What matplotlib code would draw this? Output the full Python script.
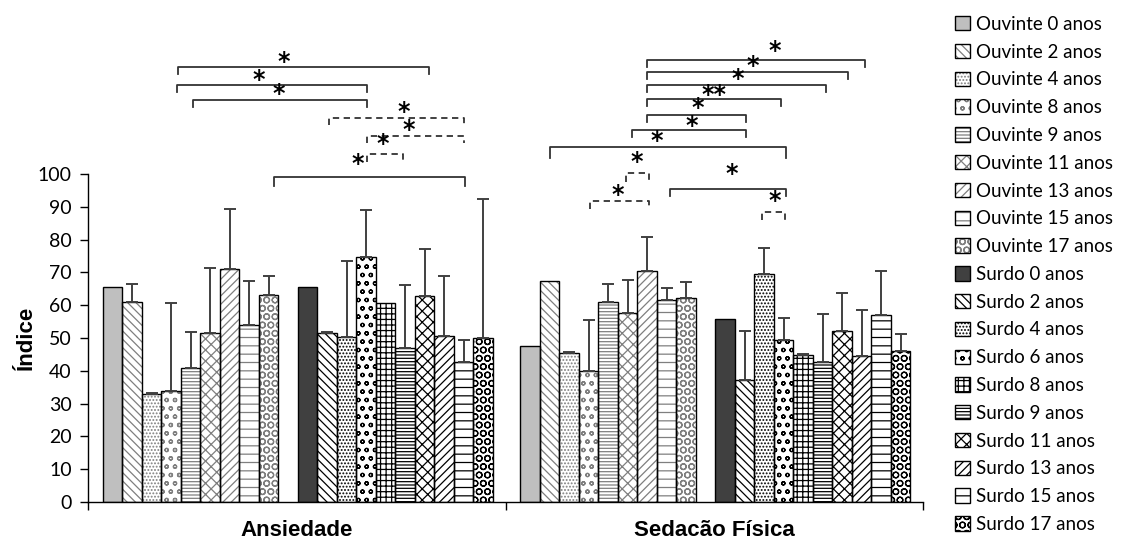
import numpy as np
import matplotlib.pyplot as plt
from matplotlib.patches import Patch
from matplotlib.legend_handler import HandlerTuple

categories = ['Ansiedade', 'Sedacão Física']
ouvinte_ages = [0, 2, 4, 8, 9, 11, 13, 15, 17]
surdo_ages = [0, 2, 4, 6, 8, 9, 11, 13, 15, 17]

# mean index per group, one list per dimension
ouv_ansiedade = [65.6, 61.0, 32.8, 33.7, 41.0, 51.4, 71.2, 54.1, 63.0]
ouv_sedacao = [47.5, 67.3, 45.3, 39.8, 61.0, 57.6, 70.3, 61.5, 62.3]
sur_ansiedade = [65.6, 51.4, 50.2, 74.6, 60.6, 47.1, 62.7, 50.7, 42.8, 49.9]
sur_sedacao = [55.8, 37.1, 69.6, 49.4, 44.8, 42.8, 52.1, 44.4, 56.9, 46.0]

# upper error (SD), nan = no bar drawn
ouv_ansiedade_sd = [np.nan, 5.4, 0.3, 27.0, 10.8, 20.1, 18.1, 13.2, 5.8]
ouv_sedacao_sd = [np.nan, np.nan, 0.3, 15.7, 5.4, 10.1, 10.5, 3.8, 4.8]
sur_ansiedade_sd = [np.nan, 0.3, 23.3, 14.3, np.nan, 19.0, 14.5, 18.1, 6.5, 42.6]
sur_sedacao_sd = [np.nan, 15.1, 7.7, 6.6, 0.3, 14.4, 11.7, 14.0, 13.6, 5.1]

# significance brackets: (category, slot from, slot to, height, tick, dashed)
# slots 0-8 = Ouvinte, 9 = gap, 10-19 = Surdo
brackets = [
    (0, 3.33, 16.23, 132.7, 2.2, False),
    (0, 3.28, 13.07, 127.3, 2.2, False),
    (0, 4.10, 13.07, 122.6, 2.2, False),
    (0, 11.10, 18.03, 117.2, 2.2, True),
    (0, 13.02, 18.03, 111.7, 2.2, True),
    (0, 13.02, 14.87, 106.0, 2.2, True),
    (0, 8.28, 18.06, 99.2, 2.8, False),
    (1, 5.99, 17.16, 134.8, 2.2, False),
    (1, 5.99, 16.30, 131.1, 2.2, False),
    (1, 5.99, 15.19, 127.3, 2.2, False),
    (1, 5.99, 12.85, 122.9, 2.2, False),
    (1, 5.99, 11.09, 118.0, 2.2, False),
    (1, 5.24, 11.09, 113.4, 2.2, False),
    (1, 1.04, 13.12, 108.3, 3.3, False),
    (1, 4.94, 6.08, 100.2, 2.6, True),
    (1, 3.05, 6.08, 91.8, 2.6, True),
    (1, 7.16, 13.12, 95.5, 2.2, False),
    (1, 11.89, 13.09, 88.5, 2.4, True),
]
stars = [
    (0, 8.79, 134.8, '*'), (0, 7.51, 129.4, '*'), (0, 8.54, 125.1, '*'),
    (0, 14.95, 119.7, '*'), (0, 15.21, 114.3, '*'), (0, 13.84, 109.8, '*'),
    (0, 12.56, 103.7, '*'),
    (1, 12.54, 138.3, '*'), (1, 11.43, 133.6, '*'), (1, 10.63, 129.7, '*'),
    (1, 9.43, 124.9, '**'), (1, 8.61, 120.8, '*'), (1, 8.27, 115.3, '*'),
    (1, 6.47, 110.9, '*'), (1, 5.45, 104.3, '*'), (1, 4.51, 94.4, '*'),
    (1, 10.32, 100.7, '*'), (1, 12.54, 92.6, '*'),
]

ouv_fill = ['#bfbfbf'] + ['white'] * 8
sur_fill = ['#404040'] + ['white'] * 9
ouv_hatch = ['', '\\\\\\\\', '.....', 'oo', '-----', 'xxx', '////', '--', 'OO']
sur_hatch = ['', '\\\\\\\\', '.....', 'oo', '+++', '-----', 'xxx', '////', '--', 'OO']

plt.rcParams['hatch.linewidth'] = 0.9
fig = plt.figure(figsize=(11.23, 5.39), dpi=100)
ax = fig.add_axes([0.0786, 0.0686, 0.7436, 0.6085])

w = 0.0467


def slot_x(cat, slot):
    return cat - 0.5 + 0.035 + w * (slot + 0.5)


legend_handles = []
legend_labels = []
groups = [
    ('Ouvinte', ouvinte_ages, [ouv_ansiedade, ouv_sedacao], [ouv_ansiedade_sd, ouv_sedacao_sd],
     ouv_fill, ouv_hatch, '#7f7f7f', 0),
    ('Surdo', surdo_ages, [sur_ansiedade, sur_sedacao], [sur_ansiedade_sd, sur_sedacao_sd],
     sur_fill, sur_hatch, '#000000', 10),
]
for name, ages, vals, sds, fills, hatches, hcol, offset in groups:
    for k, age in enumerate(ages):
        xs = [slot_x(c, offset + k) for c in range(len(categories))]
        ys = [vals[c][k] for c in range(len(categories))]
        ax.bar(xs, ys, width=w, color=fills[k], hatch=hatches[k] or None,
               edgecolor=hcol, linewidth=0, zorder=2)
        ax.bar(xs, ys, width=w, color='none', edgecolor='black', linewidth=1.0, zorder=3)
        err = np.array([sds[c][k] for c in range(len(categories))])
        ok = ~np.isnan(err)
        if ok.any():
            ax.errorbar(np.array(xs)[ok], np.array(ys)[ok],
                        yerr=[np.zeros(ok.sum()), err[ok]], fmt='none',
                        ecolor='#404040', elinewidth=1.4, capsize=4.5, capthick=1.4, zorder=4)
        h1 = Patch(facecolor=fills[k], edgecolor=hcol, hatch=hatches[k] or None, linewidth=0)
        h2 = Patch(facecolor='none', edgecolor='black', linewidth=1.0)
        legend_handles.append((h1, h2))
        legend_labels.append(f'{name} {age} anos')

for cat, s0, s1, y, tick, dashed in brackets:
    x0, x1 = slot_x(cat, s0), slot_x(cat, s1)
    ax.plot([x0, x0, x1, x1], [y - tick, y, y, y - tick], color='#333333', lw=1.3,
            ls=(0, (3.5, 2.5)) if dashed else '-', clip_on=False, zorder=5)
for cat, s, y, txt in stars:
    ax.text(slot_x(cat, s), y, txt, ha='center', va='center_baseline', fontsize=17,
            fontweight='bold', family='DejaVu Sans', clip_on=False, zorder=6)

ax.set_xlim(-0.5, 1.5)
ax.set_ylim(0, 100)
ax.set_yticks(np.arange(0, 101, 10))
ax.set_xticks(range(len(categories)))
ax.set_xticklabels(categories, fontsize=16, fontweight='bold', family='Liberation Sans')
ax.set_xticks([-0.5, 0.5, 1.5], minor=True)
ax.tick_params(axis='x', which='major', length=0, pad=13)
ax.tick_params(axis='x', which='minor', length=6, width=1.0, direction='out')
ax.tick_params(axis='y', length=6, width=1.0, pad=6, labelsize=14)
for lab in ax.get_yticklabels():
    lab.set_family('Lato')
for sp in ['top', 'right']:
    ax.spines[sp].set_visible(False)
ax.spines['left'].set_linewidth(1.0)
ax.spines['bottom'].set_linewidth(1.0)
ax.set_ylabel('Índice', fontsize=16, fontweight='bold', family='Liberation Sans')
ax.yaxis.set_label_coords(-0.061, 0.5)

fig.legend(legend_handles, legend_labels, handler_map={tuple: HandlerTuple(ndivide=1)},
           loc='upper left', bbox_to_anchor=(0.842, 0.988), frameon=False,
           prop={'family': 'Lato', 'size': 13.5}, handlelength=0.8, handleheight=0.8,
           handletextpad=0.3, labelspacing=0.575, borderpad=0)

fig.savefig('out.png', dpi=100)
